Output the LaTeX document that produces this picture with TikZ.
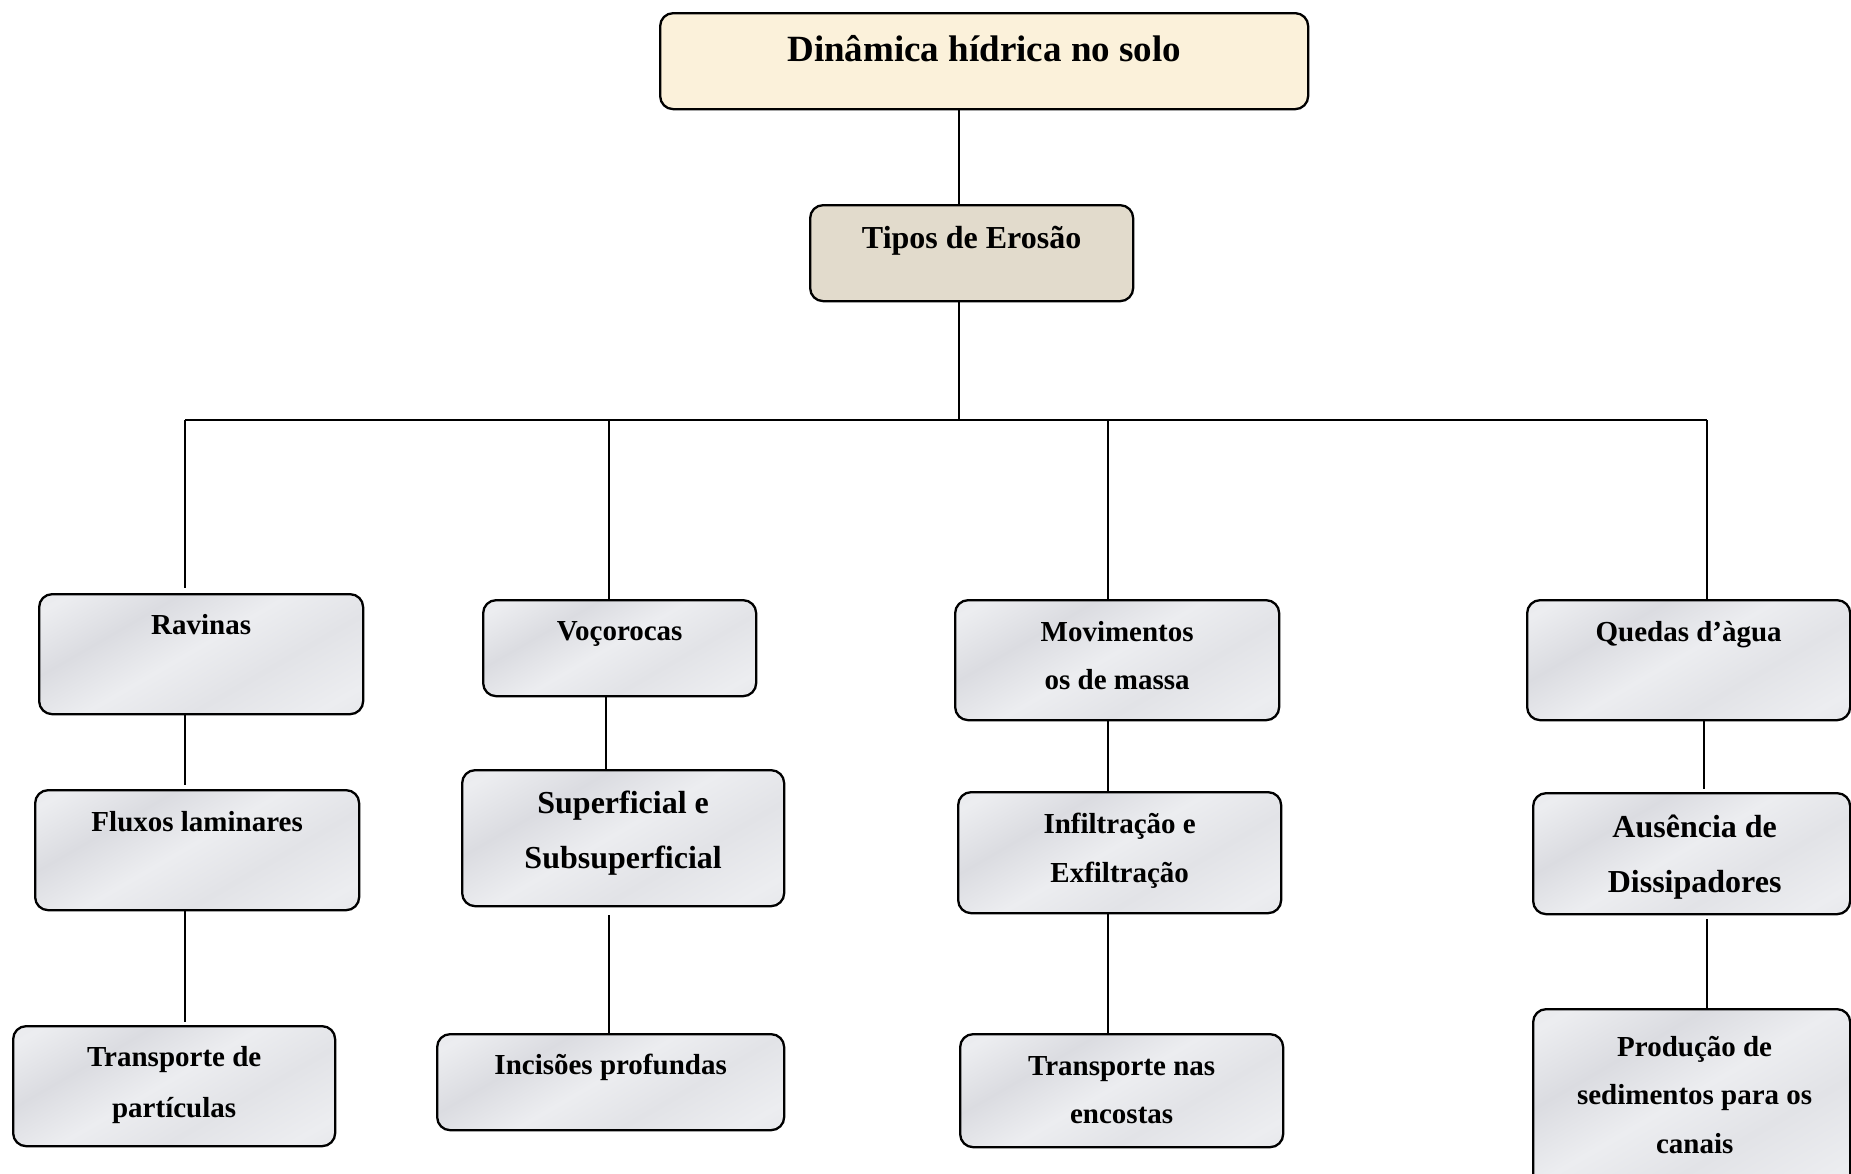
\documentclass[tikz,border=0pt]{standalone}
\usepackage{fontspec}
\setmainfont{Liberation Serif}
\definecolor{mA}{RGB}{219,220,225}
\definecolor{mB}{RGB}{236,237,240}
\definecolor{mC}{RGB}{226,227,231}
\definecolor{beigetop}{RGB}{251,241,218}
\definecolor{beigegray}{RGB}{226,219,204}
\pgfdeclareverticalshading{marblesh}{100bp}{color(0bp)=(mA); color(22bp)=(mB); color(38bp)=(mC); color(52bp)=(mB); color(66bp)=(mA); color(80bp)=(mB); color(100bp)=(mC)}
\tikzset{
  box/.style={draw=black, line width=2.3pt, rounded corners=13pt, shade, shading=marblesh, shading angle=30, anchor=north west, inner sep=0pt},
  plainbox/.style={draw=black, line width=2.3pt, rounded corners=13pt, anchor=north west, inner sep=0pt},
  lbl/.style={anchor=base, align=center, inner sep=0pt},
  conn/.style={line width=1.8pt},
}
\newcommand{\fs}[2]{\bfseries\fontsize{#1}{#2}\selectfont}
\begin{document}
\begin{tikzpicture}[x=1pt,y=-1pt]
\useasboundingbox (0,0) rectangle (1851,1173);
\fill[white] (0,0) rectangle (1851,1173);
% boxes
\node[plainbox, fill=beigetop, minimum width=648pt, minimum height=96pt] (top) at (659,12) {};
\node[plainbox, fill=beigegray, minimum width=323pt, minimum height=96pt] (tip) at (809,204) {};
\node[box, minimum width=324pt, minimum height=120pt] (rav) at (38,593) {};
\node[box, minimum width=273pt, minimum height=96pt] (voc) at (482,599) {};
\node[box, minimum width=324pt, minimum height=120pt] (mov) at (954,599) {};
\node[box, minimum width=323pt, minimum height=120pt] (que) at (1526,599) {};
\node[box, minimum width=324pt, minimum height=120pt] (flu) at (34,789) {};
\node[box, minimum width=322pt, minimum height=136pt] (sup) at (461,769) {};
\node[box, minimum width=323pt, minimum height=121pt] (inf) at (957,791) {};
\node[box, minimum width=317pt, minimum height=121pt] (aus) at (1532,792) {};
\node[box, minimum width=322pt, minimum height=120pt] (tra) at (12,1025) {};
\node[box, minimum width=347pt, minimum height=96pt] (inc) at (436,1033) {};
\node[box, minimum width=323pt, minimum height=113pt] (enc) at (959,1033) {};
\node[box, minimum width=317pt, minimum height=190pt] (pro) at (1532,1008) {};
% labels (anchor=base is the baseline of the last line)
\node[lbl, font=\fs{37}{50}] (topT) at ([yshift=-49pt]top.north) {Dinâmica hídrica no solo};
\node[lbl, font=\fs{32}{50}] (tipT) at ([yshift=-44pt]tip.north) {Tipos de Erosão};
\node[lbl, font=\fs{29}{48}] (ravT) at ([yshift=-41pt]rav.north) {Ravinas};
\node[lbl, font=\fs{29}{48}] (vocT) at ([yshift=-41pt]voc.north) {Voçorocas};
\node[lbl, font=\fs{29}{48}] (movT) at ([yshift=-90pt]mov.north) {Movimentos\\os de massa};
\node[lbl, font=\fs{29}{48}] (queT) at ([yshift=-42pt]que.north) {Quedas d’àgua};
\node[lbl, font=\fs{29}{48}] (fluT) at ([yshift=-42pt]flu.north) {Fluxos laminares};
\node[lbl, font=\fs{32}{55}] (supT) at ([yshift=-99pt]sup.north) {Superficial e\\Subsuperficial};
\node[lbl, font=\fs{29}{49}] (infT) at ([yshift=-91pt]inf.north) {Infiltração e\\Exfiltração};
\node[lbl, font=\fs{32}{55}] (ausT) at ([xshift=3pt,yshift=-100pt]aus.north) {Ausência de\\Dissipadores};
\node[lbl, font=\fs{29}{51}] (traT) at ([yshift=-92pt]tra.north) {Transporte de\\partículas};
\node[lbl, font=\fs{29}{48}] (incT) at ([yshift=-41pt]inc.north) {Incisões profundas};
\node[lbl, font=\fs{29}{48}] (encT) at ([yshift=-90pt]enc.north) {Transporte nas\\encostas};
\node[lbl, font=\fs{29}{48.5}] (proT) at ([xshift=3pt,yshift=-145pt]pro.north) {Produção de\\sedimentos para os\\canais};
% junction coordinates
\coordinate (xm) at (959,420);
\coordinate (hA) at (185,420);
\coordinate (hB) at (609,420);
\coordinate (hC) at (1108,420);
\coordinate (hD) at (1707,420);
\coordinate (vB) at (606,420);
\coordinate (vD) at (1704,420);
% connectors
\draw[conn] (top.south -| xm) -- (tip.north -| xm);
\draw[conn] (tip.south -| xm) -- (xm);
\draw[conn] (hA) -- (hD);
\draw[conn, shorten >=5pt] (hA) -- (rav.north -| hA);
\draw[conn] (hB) -- (voc.north -| hB);
\draw[conn] (hC) -- (mov.north -| hC);
\draw[conn] (hD) -- (que.north -| hD);
\draw[conn, shorten >=4pt] (rav.south -| hA) -- (flu.north -| hA);
\draw[conn, shorten >=3pt] (flu.south -| hA) -- (tra.north -| hA);
\draw[conn] (voc.south -| vB) -- (sup.north -| vB);
\draw[conn, shorten <=8pt] (sup.south -| hB) -- (inc.north -| hB);
\draw[conn] (mov.south -| hC) -- (inf.north -| hC);
\draw[conn] (inf.south -| hC) -- (enc.north -| hC);
\draw[conn, shorten >=3pt] (que.south -| vD) -- (aus.north -| vD);
\draw[conn, shorten <=4pt] (aus.south -| hD) -- (pro.north -| hD);
\end{tikzpicture}
\end{document}
